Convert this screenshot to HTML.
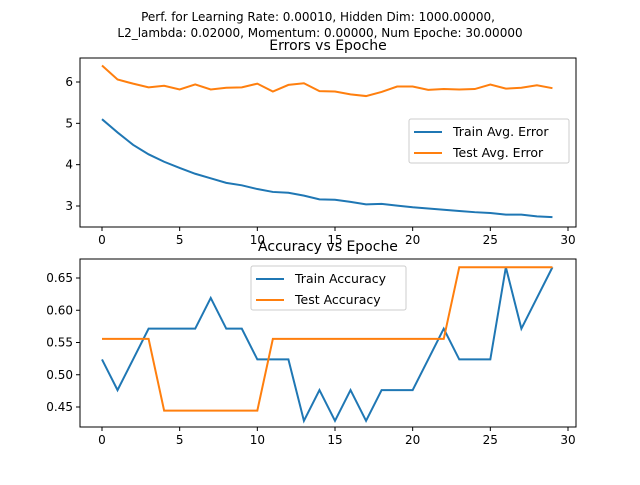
<!DOCTYPE html>
<html><head><meta charset="utf-8"><style>
body{margin:0;background:#fff;}
svg text{font-family:"DejaVu Sans","Liberation Sans",sans-serif;fill:#000;}
</style></head><body>
<svg id="c" width="640" height="480" xmlns="http://www.w3.org/2000/svg">
<text x="318" y="21" font-size="12" text-anchor="middle">Perf. for Learning Rate: 0.00010, Hidden Dim: 1000.00000,</text>
<text x="320" y="37" font-size="12" text-anchor="middle">L2_lambda: 0.02000, Momentum: 0.00000, Num Epoche: 30.00000</text>
<text x="328" y="50" font-size="14" text-anchor="middle">Errors vs Epoche</text>
<text x="328" y="251" font-size="14" text-anchor="middle">Accuracy vs Epoche</text>
</svg>
<script>
const epochs=[...Array(30).keys()];
const trainErr=[5.1,4.78,4.48,4.25,4.07,3.92,3.78,3.67,3.56,3.50,3.41,3.34,3.32,3.25,3.16,3.15,3.10,3.04,3.05,3.01,2.97,2.94,2.91,2.88,2.85,2.83,2.79,2.79,2.75,2.73];
const testErr=[6.4,6.06,5.96,5.87,5.91,5.82,5.94,5.82,5.86,5.87,5.96,5.77,5.93,5.97,5.78,5.77,5.70,5.66,5.76,5.89,5.89,5.81,5.83,5.82,5.83,5.94,5.84,5.86,5.92,5.85];
const trainAccN=[11,10,11,12,12,12,12,13,12,12,11,11,11,9,10,9,10,9,10,10,10,11,12,11,11,11,14,12,13,14];
const trainAcc=trainAccN.map(v=>v/21);
const testAcc=[5,5,5,5,4,4,4,4,4,4,4,5,5,5,5,5,5,5,5,5,5,5,5,6,6,6,6,6,6,6].map(v=>v/9);
const xTicks=[0,5,10,15,20,25,30];
const errTicks=[3,4,5,6];
const accTicks=[0.45,0.50,0.55,0.60,0.65];
const NS="http://www.w3.org/2000/svg",svg=document.getElementById('c');
const X=v=>102+v*15.533;
function el(t,a,p){const e=document.createElementNS(NS,t);for(const k in a)e.setAttribute(k,a[k]);(p||svg).appendChild(e);return e;}
function panel(top,bot,Y,ticks,fmt,series,name,legend){
  const g=el('g',{});
  
  
  el('rect',{x:80,y:top,width:496,height:bot-top,fill:'none',stroke:'#000','stroke-width':1},g);
  xTicks.forEach(t=>{el('line',{x1:X(t),x2:X(t),y1:bot,y2:bot+4,stroke:'#000'},g);
    const tx=el('text',{x:X(t),y:bot+17,'font-size':12,'text-anchor':'middle'},g);tx.textContent=t;
    });
  ticks.forEach(t=>{el('line',{x1:76,x2:80,y1:Y(t),y2:Y(t),stroke:'#000'},g);
    const tx=el('text',{x:73,y:Y(t)+4,'font-size':12,'text-anchor':'end'},g);tx.textContent=fmt(t);
    });
  series.forEach(s=>{const p=el('polyline',{points:s.d.map((v,i)=>X(epochs[i])+','+Y(v)).join(' '),fill:'none',stroke:s.c,'stroke-width':2},g);
    });
  const L=el('g',{},g);
  
  
  el('rect',{x:legend.x,y:legend.y,width:legend.w,height:44,fill:'#fff','fill-opacity':0.8,stroke:'#ccc',rx:2},L);
  series.forEach((s,i)=>{const yy=legend.y+13+i*21;
    el('line',{x1:legend.x+5,x2:legend.x+33,y1:yy,y2:yy,stroke:s.c,'stroke-width':2},L);
    const tx=el('text',{x:legend.x+44,y:yy+4,'font-size':12.5},L);tx.textContent=s.l;
    });
}
panel(58,227,v=>82+(6-v)*41.33,errTicks,t=>t,[{d:trainErr,c:'#1f77b4',l:'Train Avg. Error',n:'train-error-line'},{d:testErr,c:'#ff7f0e',l:'Test Avg. Error',n:'test-error-line'}],'errors',{x:409,y:119,w:160});
panel(259,427,v=>278+(0.65-v)*645,accTicks,t=>t.toFixed(2),[{d:trainAcc,c:'#1f77b4',l:'Train Accuracy',n:'train-accuracy-line'},{d:testAcc,c:'#ff7f0e',l:'Test Accuracy',n:'test-accuracy-line'}],'accuracy',{x:251,y:266,w:155});
</script>
</body></html>
